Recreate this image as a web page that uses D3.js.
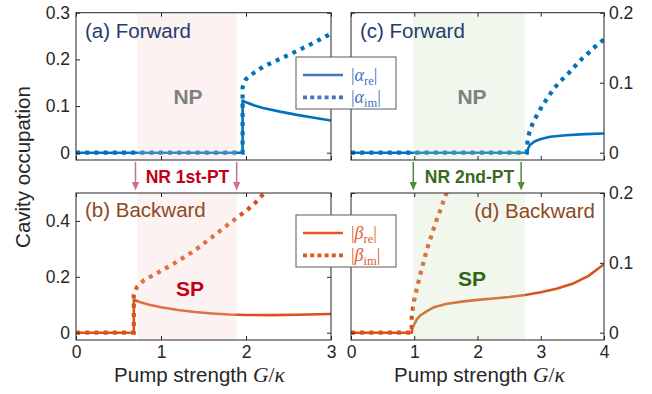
<!DOCTYPE html>
<html>
<head>
<meta charset="utf-8">
<script src="https://cdn.jsdelivr.net/npm/d3@7"></script>
<style>
  body { margin: 0; background: #fff; }
  svg { display: block; }
  text { font-family: "Liberation Sans", Arial, Helvetica, sans-serif; }
  .math { font-family: "Liberation Serif", "DejaVu Serif", serif; }
</style>
</head>
<body>
<svg id="chart" width="652" height="394"></svg>
<script>
// ---- (a) forward sweep, first-order transition ----
const gReA = [0, 1.96, 1.96, 2.0, 2.1, 2.2, 2.4, 2.6, 2.8, 3.0];
const reA  = [0, 0, 0.112, 0.108, 0.101, 0.096, 0.088, 0.081, 0.075, 0.069];
const gImA = [0, 1.96, 1.96, 2.0, 2.1, 2.2, 2.4, 2.6, 2.8, 3.0];
const imA  = [0, 0, 0.14, 0.158, 0.172, 0.184, 0.201, 0.218, 0.236, 0.255];

// ---- (b) backward sweep, first-order transition ----
const gReB = [0, 0.68, 0.68, 0.75, 0.85, 1.0, 1.2, 1.4, 1.6, 1.8, 2.0, 2.3, 2.6, 3.0];
const reB  = [0, 0, 0.118, 0.110, 0.101, 0.091, 0.081, 0.074, 0.069, 0.065, 0.0635, 0.063, 0.064, 0.067];
const gImB = [0, 0.68, 0.68, 0.72, 0.8, 1.0, 1.2, 1.4, 1.6, 1.8, 2.0, 2.1, 2.2, 2.26];
const imB  = [0, 0, 0.136, 0.165, 0.188, 0.221, 0.256, 0.295, 0.342, 0.39, 0.436, 0.462, 0.495, 0.515];

// ---- (c) forward sweep, second-order transition ----
const gReC = [0, 2.78, 2.80, 2.83, 2.9, 3.0, 3.15, 3.4, 3.7, 4.0];
const reC  = [0, 0, 0.006, 0.011, 0.016, 0.0195, 0.0227, 0.025, 0.0265, 0.0275];
const gImC = [0, 2.78, 2.79, 2.82, 2.88, 2.95, 3.03, 3.12, 3.21, 3.32, 3.44, 3.55, 3.66, 3.78, 3.89, 4.0];
const imC  = [0, 0, 0.015, 0.029, 0.044, 0.055, 0.068, 0.080, 0.092, 0.103, 0.1135, 0.1245, 0.135, 0.1445, 0.154, 0.162];

// ---- (d) backward sweep, second-order transition ----
const gReD = [0, 0.96, 0.97, 1.0, 1.04, 1.1, 1.2, 1.3, 1.5, 1.75, 2.0, 2.25, 2.5, 2.75, 3.0, 3.25, 3.5, 3.75, 4.0];
const reD  = [0, 0, 0.006, 0.012, 0.019, 0.025, 0.031, 0.036, 0.041, 0.0445, 0.047, 0.049, 0.051, 0.054, 0.058, 0.063, 0.070, 0.081, 0.098];
const gImD = [0, 0.96, 0.96, 0.98, 1.0, 1.04, 1.08, 1.12, 1.16, 1.2, 1.25, 1.3, 1.355, 1.41, 1.46, 1.51, 1.55];
const imD  = [0, 0, 0.022, 0.036, 0.047, 0.063, 0.078, 0.092, 0.106, 0.119, 0.133, 0.147, 0.162, 0.175, 0.188, 0.2, 0.21];

// non-reciprocal windows and their marker arrows (in G/kappa)
const window1st = [0.72, 1.89];
const arrows1st = [0.70, 1.89];
const window2nd = [0.98, 2.75];
const arrows2nd = [0.985, 2.69];

// axis ticks
const xTicksLeft  = [0, 1, 2, 3];
const xTicksRight = [0, 1, 2, 3, 4];
const yTicksA = [0, 0.1, 0.2, 0.3];
const yTicksB = [0, 0.2, 0.4];
const yTicksC = [0, 0.1, 0.2];
const yTicksD = [0, 0.1, 0.2];

const BLUE = "#0072BD", ORANGE = "#D95319";
const svg = d3.select("#chart");

const colL = { x0: 76, x1: 331, xmax: 3 };
const colR = { x0: 351, x1: 604, xmax: 4 };
const rowT = { top: 12.7, bottom: 160 };
const rowB = { top: 193, bottom: 340 };
const padBottom = 7.3;

const fmt = d => d === 0 ? "0" : d3.format(".1f")(d);
const pts = (gs, vs) => gs.map((g, i) => [g, vs[i]]);

function styleAxis(sel) {
  sel.selectAll(".domain").remove();
  sel.attr("font-family", null).attr("font-size", null);
  sel.selectAll("text").attr("font-size", 17.5).attr("fill", "#262626")
    .attr("font-family", "Liberation Sans, Arial, sans-serif");
  sel.selectAll("line").attr("stroke", "#262626");
}

function panel(o) {
  const x = d3.scaleLinear().domain([0, o.col.xmax]).range([o.col.x0, o.col.x1]);
  const y = d3.scaleLinear().domain([0, o.ymax]).range([o.row.bottom - padBottom, o.row.top]);
  const w = o.col.x1 - o.col.x0, h = o.row.bottom - o.row.top;
  const g = svg.append("g");
  const clipId = "clip-" + o.id;
  g.append("clipPath").attr("id", clipId)
    .append("rect").attr("x", o.col.x0).attr("y", o.row.top).attr("width", w).attr("height", h);

  const plot = g.append("g").attr("clip-path", `url(#${clipId})`);
  const line = d3.line().x(d => x(d[0])).y(d => y(d[1])).curve(d3.curveLinear);

  plot.append("path").datum(pts(o.gRe, o.re)).attr("d", line)
    .attr("fill", "none").attr("stroke", o.color).attr("stroke-width", 2.6)
    .attr("stroke-linejoin", "round");
  plot.append("path").datum(pts(o.gIm, o.im)).attr("d", line)
    .attr("fill", "none").attr("stroke", o.color).attr("stroke-width", 4.2)
    .attr("stroke-dasharray", "4 5.2");

  // translucent band over the non-reciprocal window
  plot.append("rect")
    .attr("x", x(o.band[0])).attr("width", x(o.band[1]) - x(o.band[0]))
    .attr("y", o.row.top).attr("height", h)
    .attr("fill", o.bandFill).attr("fill-opacity", 0.25);

  // axes: inward ticks on all four sides
  const ax = g.append("g");
  ax.append("g").attr("transform", `translate(0,${o.row.bottom})`)
    .call(d3.axisBottom(x).tickValues(o.xTicks).tickSizeInner(-4).tickSizeOuter(0).tickPadding(5.6)
      .tickFormat(o.xLabels ? d3.format("d") : () => ""))
    .call(styleAxis);
  ax.append("g").attr("transform", `translate(0,${o.row.top})`)
    .call(d3.axisTop(x).tickValues(o.xTicks).tickSizeInner(-4).tickSizeOuter(0).tickFormat(() => ""))
    .call(styleAxis);
  ax.append("g").attr("transform", `translate(${o.col.x0},0)`)
    .call(d3.axisLeft(y).tickValues(o.yTicks).tickSizeInner(-4).tickSizeOuter(0).tickPadding(6)
      .tickFormat(o.side === "left" ? fmt : () => ""))
    .call(styleAxis);
  ax.append("g").attr("transform", `translate(${o.col.x1},0)`)
    .call(d3.axisRight(y).tickValues(o.yTicks).tickSizeInner(-4).tickSizeOuter(0).tickPadding(5)
      .tickFormat(o.side === "right" ? fmt : () => ""))
    .call(styleAxis);

  g.append("rect").attr("x", o.col.x0).attr("y", o.row.top).attr("width", w).attr("height", h)
    .attr("fill", "none").attr("stroke", "#262626").attr("stroke-width", 1);

  // panel title and phase tag
  g.append("text").attr("x", o.title.anchor === "end" ? o.col.x1 - 9 : o.col.x0 + 9)
    .attr("y", o.row.top + o.title.dy).attr("text-anchor", o.title.anchor || "start")
    .attr("font-size", 20.5).attr("fill", o.title.color).text(o.title.text);
  g.append("text").attr("x", o.tag.x).attr("y", o.tag.y).attr("text-anchor", "middle")
    .attr("font-size", 21).attr("font-weight", "bold").attr("fill", o.tag.color).text(o.tag.text);
  return { x, y };
}

const a = panel({ id: "a", col: colL, row: rowT, ymax: 0.3, xTicks: xTicksLeft, yTicks: yTicksA, side: "left",
  gRe: gReA, re: reA, gIm: gImA, im: imA, color: BLUE, band: window1st, bandFill: "#F7CDCD",
  title: { text: "(a) Forward", color: "#243D6C", dy: 25.3 },
  tag: { text: "NP", x: 188, y: 103.5, color: "#808080" } });
const b = panel({ id: "b", col: colL, row: rowB, ymax: 0.5, xTicks: xTicksLeft, yTicks: yTicksB, side: "left", xLabels: true,
  gRe: gReB, re: reB, gIm: gImB, im: imB, color: ORANGE, band: window1st, bandFill: "#F7CDCD",
  title: { text: "(b) Backward", color: "#8C4A1E", dy: 23.7 },
  tag: { text: "SP", x: 190, y: 295.5, color: "#C00018" } });
const c = panel({ id: "c", col: colR, row: rowT, ymax: 0.2, xTicks: xTicksRight, yTicks: yTicksC, side: "right",
  gRe: gReC, re: reC, gIm: gImC, im: imC, color: BLUE, band: window2nd, bandFill: "#C8E1B9",
  title: { text: "(c) Forward", color: "#243D6C", dy: 24.8 },
  tag: { text: "NP", x: 472, y: 104, color: "#808080" } });
const d = panel({ id: "d", col: colR, row: rowB, ymax: 0.2, xTicks: xTicksRight, yTicks: yTicksD, side: "right", xLabels: true,
  gRe: gReD, re: reD, gIm: gImD, im: imD, color: ORANGE, band: window2nd, bandFill: "#C8E1B9",
  title: { text: "(d) Backward", color: "#8C4A1E", dy: 25, anchor: "end" },
  tag: { text: "SP", x: 472, y: 286, color: "#2D6614" } });

// transition markers between the two rows
function markers(xs, scale, color, label, labelColor, cx) {
  const g = svg.append("g");
  xs.forEach(v => {
    const px = scale(v);
    g.append("line").attr("x1", px).attr("x2", px).attr("y1", 162).attr("y2", 183)
      .attr("stroke", color).attr("stroke-width", 1.5);
    g.append("path").attr("d", `M${px - 3.6},${182} L${px + 3.6},${182} L${px},${190.5} Z`).attr("fill", color);
  });
  g.append("text").attr("x", cx).attr("y", 183).attr("text-anchor", "middle")
    .attr("font-size", 17.5).attr("font-weight", "bold").attr("fill", labelColor).text(label);
}
markers(arrows1st, a.x, "#CD6E8C", "NR 1st-PT", "#C00018", 187.5);
markers(arrows2nd, c.x, "#508C32", "NR 2nd-PT", "#3A6A1E", 469.5);

// legends
function legend(y0, lineColor, textColor, sym) {
  const g = svg.append("g");
  g.append("rect").attr("x", 296).attr("y", y0).attr("width", 100).attr("height", 52)
    .attr("fill", "#fff").attr("stroke", "#5a5a5a").attr("stroke-width", 1);
  [["re", 0, null], ["im", 1, "4 3.2"]].forEach(([sub, i, dash]) => {
    const ly = y0 + 18 + i * 22.4;
    g.append("line").attr("x1", 303).attr("x2", 343).attr("y1", ly).attr("y2", ly)
      .attr("stroke", lineColor).attr("stroke-width", dash ? 3.6 : 2.6)
      .attr("stroke-dasharray", dash);
    const t = g.append("text").attr("class", "math").attr("x", 351).attr("y", ly + 6)
      .attr("font-size", 18).attr("fill", textColor);
    t.append("tspan").text("|");
    t.append("tspan").attr("font-style", "italic").text(sym);
    t.append("tspan").attr("font-size", 12.5).attr("dy", 4).text(sub);
    t.append("tspan").attr("dy", -4).text("|");
  });
}
legend(57, "#4472C4", "#4472C4", "α");
legend(215, "#E0561C", "#E0602A", "β");

// axis titles
svg.append("text").attr("transform", "translate(30,167) rotate(-90)").attr("text-anchor", "middle")
  .attr("font-size", 20.5).attr("fill", "#262626").text("Cavity occupation");

function xTitle(cx) {
  const t = svg.append("text").attr("x", cx).attr("y", 382).attr("text-anchor", "middle")
    .attr("font-size", 20.5).attr("fill", "#262626");
  t.append("tspan").text("Pump strength ");
  t.append("tspan").attr("class", "math").attr("font-style", "italic").attr("font-size", 21.5).text("G");
  t.append("tspan").attr("class", "math").attr("font-size", 21.5).text("/");
  t.append("tspan").attr("class", "math").attr("font-style", "italic").attr("font-size", 21.5).text("κ");
}
xTitle(199.5);
xTitle(479.5);
</script>
</body>
</html>
